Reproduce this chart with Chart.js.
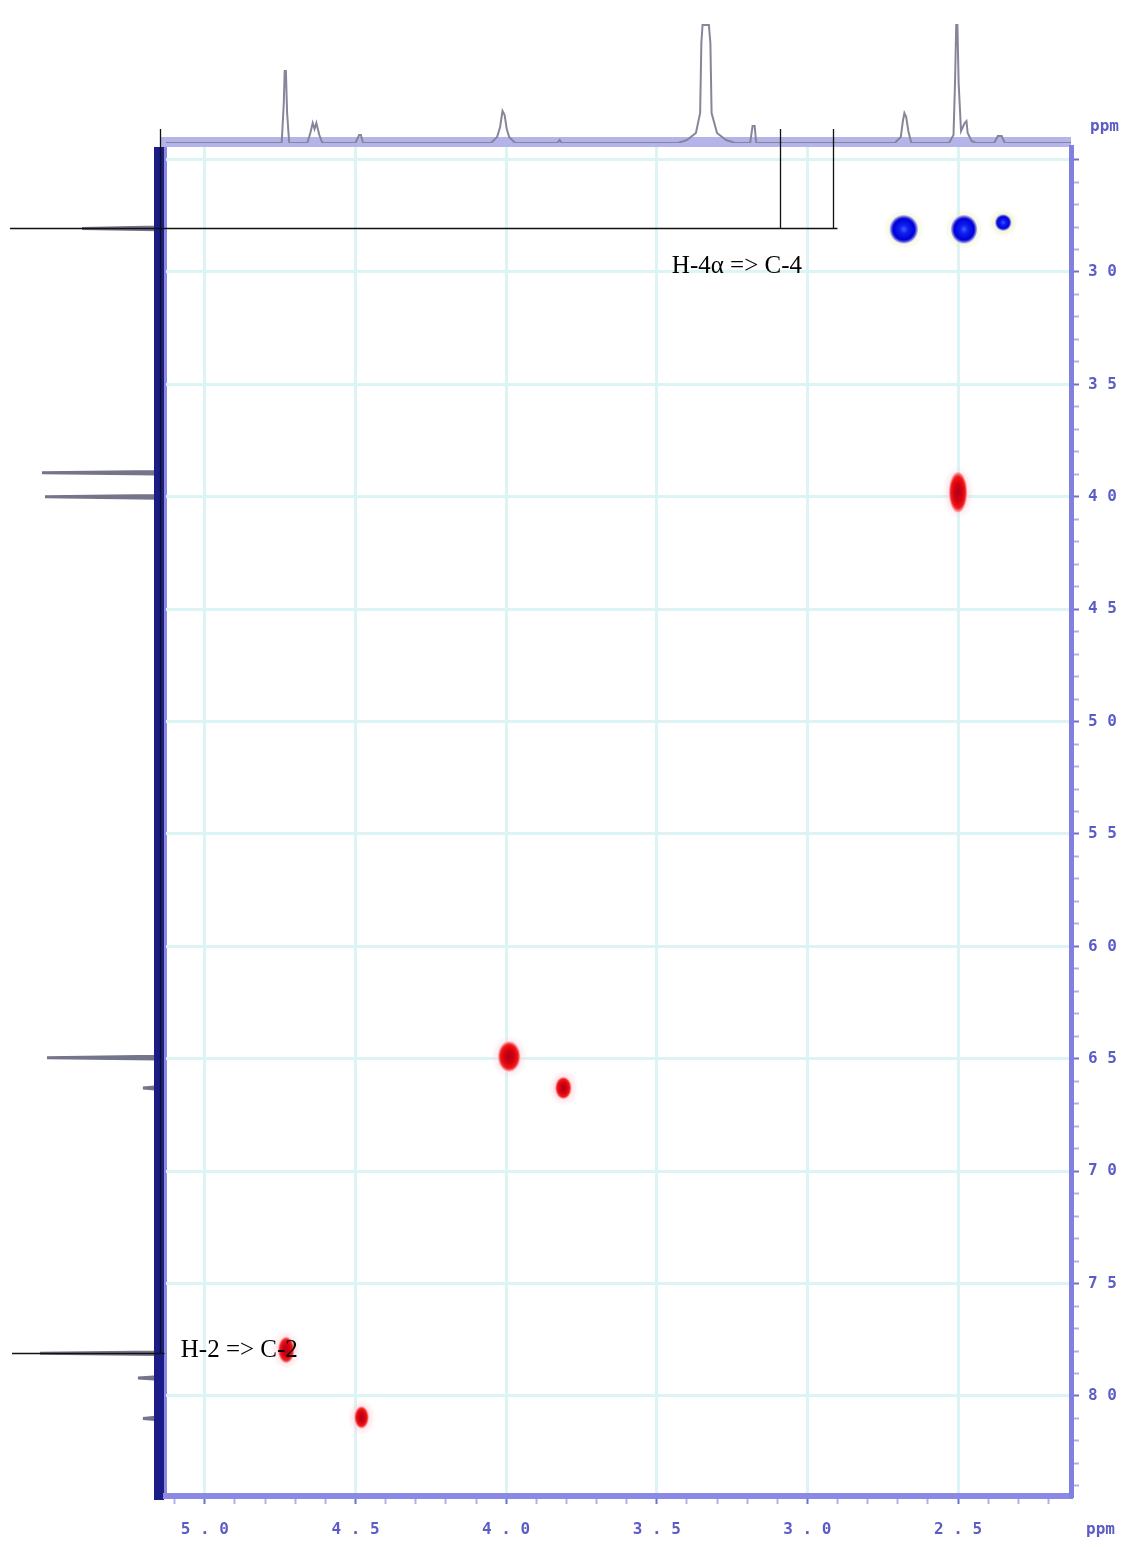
<!DOCTYPE html>
<html>
<head>
<meta charset="utf-8">
<script src="https://cdn.jsdelivr.net/npm/chart.js@4.4.1/dist/chart.umd.min.js"></script>
<style>
  body { margin: 0; background: #fff; }
  #wrap { position: relative; width: 1138px; height: 1544px; }
  #wrap canvas { position: absolute; left: 0; top: 0; }
</style>
</head>
<body>
<div id="wrap">
  <canvas id="carbon" width="1138" height="1544"></canvas>
  <canvas id="hsqc" width="1138" height="1544"></canvas>
  <canvas id="proton" width="1138" height="1544"></canvas>
</div>
<script>
// Cross peaks: 1H shift, 13C shift, phase (+ red, - blue)
const peakH = [4.73, 4.48, 3.99, 3.81, 2.50, 2.68, 2.48, 2.35];
const peakC = [77.95, 80.95, 64.9, 66.3, 39.8, 28.1, 28.1, 27.8];
const peakPhase = ['+', '+', '+', '+', '+', '-', '-', '-'];

// 1H projection (top)
const protonPpm = [5.13, 4.745, 4.738, 4.735, 4.731, 4.727, 4.72, 4.66, 4.65, 4.642, 4.636, 4.63, 4.62, 4.61,
  4.50, 4.488, 4.482, 4.475, 4.05, 4.03, 4.02, 4.012, 4.005, 3.998, 3.99, 3.97, 3.83, 3.822, 3.815,
  3.43, 3.40, 3.37, 3.356, 3.352, 3.348, 3.327, 3.322, 3.318, 3.30, 3.27, 3.24, 3.19, 3.182, 3.175, 3.17,
  2.71, 2.69, 2.683, 2.678, 2.672, 2.665, 2.655, 2.53, 2.515, 2.51, 2.506, 2.502, 2.498, 2.49, 2.478,
  2.472, 2.468, 2.455, 2.44, 2.38, 2.368, 2.355, 2.345, 2.125];
const protonInt = [0, 0, 40, 72, 72, 30, 0, 0, 10, 20, 14, 20, 8, 0,
  0, 8, 8, 0, 0, 6, 16, 32, 28, 14, 6, 0, 0, 3, 0,
  0, 3, 10, 30, 100, 118, 118, 100, 30, 10, 3, 0, 0, 17, 17, 0,
  0, 6, 22, 30, 26, 12, 0, 0, 8, 60, 118, 118, 60, 12, 20,
  22, 10, 2, 0, 0, 7, 7, 0, 0];

// 13C projection (left)
const carbonPpm = [24.44, 28.0, 28.06, 28.12, 38.87, 38.93, 38.99, 39.94, 40.0, 40.06, 64.89, 64.95, 65.01,
  66.24, 66.3, 66.36, 78.04, 78.1, 78.16, 79.14, 79.2, 79.26, 80.94, 81.0, 81.06, 84.45];
const carbonInt = [0, 0, 76, 0, 0, 116, 0, 0, 113, 0, 0, 111, 0,
  0, 15, 0, 0, 118, 0, 0, 20, 0, 0, 15, 0, 0];

// axis ranges (ppm)
const hRange = [2.125, 5.129];
const cRange = [24.44, 84.45];

// blob sizes (w, h) for each cross peak
const blobSize = [[16, 26], [14, 22], [22, 30], [16, 22], [18, 40], [28, 28], [26, 28], [16, 16]];

const axisColor = '#5c5cc6';
const tickFont = { family: 'DejaVu Sans Mono', size: 16, weight: 'bold' };
const gridColor = '#dcf4f4';
const spaced = s => s.split('').join(' ');
const isMult = (v, m) => Math.abs(v / m - Math.round(v / m)) < 1e-6;

function makeBlob(w, h, phase) {
  const pad = 7;
  const c = document.createElement('canvas');
  c.width = w + pad * 2;
  c.height = h + pad * 2;
  const g = c.getContext('2d');
  g.translate(c.width / 2, c.height / 2);

  // faint halo
  g.save();
  g.scale(w / 2 + pad, h / 2 + pad);
  let rg = g.createRadialGradient(0, 0, 0, 0, 0, 1);
  const haloCol = phase === '+' ? '255,205,215' : '235,235,190';
  rg.addColorStop(0.55, `rgba(${haloCol},0.55)`);
  rg.addColorStop(1, `rgba(${haloCol},0)`);
  g.fillStyle = rg;
  g.beginPath(); g.arc(0, 0, 1, 0, Math.PI * 2); g.fill();
  g.restore();

  // core
  g.save();
  g.scale(w / 2, h / 2);
  rg = g.createRadialGradient(0, 0, 0, 0, 0, 1);
  if (phase === '+') {
    rg.addColorStop(0, '#a8001c');
    rg.addColorStop(0.45, '#d6000e');
    rg.addColorStop(0.8, '#f01818');
    rg.addColorStop(1, 'rgba(250,80,90,0.4)');
  } else {
    rg.addColorStop(0, '#3c64ff');
    rg.addColorStop(0.3, '#1020f0');
    rg.addColorStop(0.78, '#0000d6');
    rg.addColorStop(1, 'rgba(60,60,240,0.4)');
  }
  g.fillStyle = rg;
  g.beginPath(); g.arc(0, 0, 1, 0, Math.PI * 2); g.fill();
  g.restore();
  return c;
}

const blobs = peakH.map((h, i) => makeBlob(blobSize[i][0], blobSize[i][1], peakPhase[i]));

// frame pieces and "ppm" labels on the main plot
const framePlugin = {
  id: 'frame',
  beforeDraw(chart) {
    const { ctx, chartArea: a } = chart;
    ctx.save();
    // top band
    ctx.fillStyle = '#b4b4ea';
    ctx.fillRect(a.left - 6, a.top - 10, a.right - a.left + 6, 10);
    // left band (13C baseline)
    ctx.fillStyle = '#1c1c86';
    ctx.fillRect(a.left - 12, a.top, 10, a.bottom - a.top + 4);
    ctx.fillStyle = '#8a8ae4';
    ctx.fillRect(a.left - 2, a.top, 3, a.bottom - a.top);
    ctx.restore();
  },
  afterDraw(chart) {
    const { ctx, chartArea: a } = chart;
    ctx.save();
    ctx.fillStyle = axisColor;
    ctx.font = 'bold 16px "DejaVu Sans Mono"';
    ctx.textBaseline = 'middle';
    ctx.fillText('ppm', a.right + 19, a.top - 20);
    ctx.fillText('ppm', a.right + 15, a.bottom + 34);
    ctx.restore();
  }
};

const main = new Chart(document.getElementById('hsqc'), {
  type: 'scatter',
  data: {
    datasets: [{
      data: peakH.map((h, i) => ({ x: h, y: peakC[i] })),
      pointStyle: blobs,
      pointRadius: 4
    }]
  },
  options: {
    responsive: false,
    animation: false,
    layout: { padding: { left: 166, right: 0, top: 147, bottom: 0 } },
    plugins: { legend: { display: false }, tooltip: { enabled: false } },
    scales: {
      x: {
        type: 'linear',
        position: 'bottom',
        reverse: true,
        min: hRange[0],
        max: hRange[1],
        afterFit: s => { s.height = 48; },
        border: { color: '#8a8ae6', width: 6 },
        grid: {
          color: c => isMult(c.tick.value, 0.5) ? gridColor : 'rgba(0,0,0,0)',
          lineWidth: 3,
          tickColor: c => isMult(c.tick.value, 0.5) ? '#7070d0' : '#b0b0ea',
          tickWidth: 2,
          tickLength: 8
        },
        ticks: {
          stepSize: 0.1,
          includeBounds: false,
          autoSkip: false,
          maxRotation: 0,
          padding: 16,
          color: axisColor,
          font: tickFont,
          callback: v => isMult(v, 0.5) ? spaced(v.toFixed(1)) : ''
        }
      },
      y: {
        type: 'linear',
        position: 'right',
        reverse: true,
        min: cRange[0],
        max: cRange[1],
        afterFit: s => { s.width = 67; },
        border: { color: '#8080e0', width: 5 },
        grid: {
          color: c => isMult(c.tick.value, 5) ? gridColor : 'rgba(0,0,0,0)',
          lineWidth: 3,
          tickColor: c => isMult(c.tick.value, 5) ? '#7070d0' : '#b0b0ea',
          tickWidth: 2,
          tickLength: 8
        },
        ticks: {
          stepSize: 1,
          includeBounds: false,
          autoSkip: false,
          padding: 9,
          color: axisColor,
          font: tickFont,
          callback: v => (isMult(v, 5) && v >= 30) ? spaced(String(Math.round(v))) : ''
        }
      }
    }
  },
  plugins: [framePlugin]
});

// 13C projection on the left
new Chart(document.getElementById('carbon'), {
  type: 'scatter',
  data: {
    datasets: [{
      data: carbonPpm.map((p, i) => ({ x: carbonInt[i], y: p })),
      showLine: true,
      borderColor: '#74748a',
      borderWidth: 3,
      pointRadius: 0,
      tension: 0
    }]
  },
  options: {
    responsive: false,
    animation: false,
    layout: { padding: { left: 10, right: 980, top: 147, bottom: 48 } },
    plugins: { legend: { display: false }, tooltip: { enabled: false } },
    scales: {
      x: { display: false, reverse: true, min: 0, max: 148 },
      y: { display: false, reverse: true, min: cRange[0], max: cRange[1] }
    }
  }
});

// annotation lines and labels, drawn on the top layer
const notesPlugin = {
  id: 'notes',
  afterDraw(chart) {
    const ctx = chart.ctx;
    const xs = main.scales.x, ys = main.scales.y, a = main.chartArea;
    const seg = (x1, y1, x2, y2) => {
      ctx.beginPath(); ctx.moveTo(x1, y1); ctx.lineTo(x2, y2); ctx.stroke();
    };
    ctx.save();
    ctx.strokeStyle = '#111';
    ctx.lineWidth = 1.3;
    const y4 = Math.round(ys.getPixelForValue(28.05)) + 0.5;
    const xa = Math.round(xs.getPixelForValue(3.09)) + 0.5;
    const xb = Math.round(xs.getPixelForValue(2.915)) + 0.5;
    seg(10, y4, xb + 4, y4);
    seg(xa, 129, xa, y4);
    seg(xb, 129, xb, y4);
    const y2 = Math.round(ys.getPixelForValue(78.1)) + 0.5;
    const xl = a.left - 5.5;
    seg(xl, 129, xl, y2);
    seg(12, y2, xl + 4, y2);

    ctx.fillStyle = '#000';
    ctx.font = '25px "Liberation Serif"';
    ctx.textBaseline = 'alphabetic';
    ctx.fillText('H-4α => C-4', xs.getPixelForValue(3.45), ys.getPixelForValue(30.05));
    ctx.fillText('H-2 => C-2', xs.getPixelForValue(5.08), ys.getPixelForValue(78.25));
    ctx.restore();
  }
};

// 1H projection on top
new Chart(document.getElementById('proton'), {
  type: 'scatter',
  data: {
    datasets: [{
      data: protonPpm.map((p, i) => ({ x: p, y: protonInt[i] })),
      showLine: true,
      borderColor: '#86869a',
      borderWidth: 2,
      pointRadius: 0,
      tension: 0
    }]
  },
  options: {
    responsive: false,
    animation: false,
    layout: { padding: { left: 166, right: 67, top: 18, bottom: 1401 } },
    plugins: { legend: { display: false }, tooltip: { enabled: false } },
    scales: {
      x: { display: false, reverse: true, min: hRange[0], max: hRange[1] },
      y: { display: false, min: 0, max: 125 }
    }
  },
  plugins: [notesPlugin]
});
</script>
</body>
</html>
